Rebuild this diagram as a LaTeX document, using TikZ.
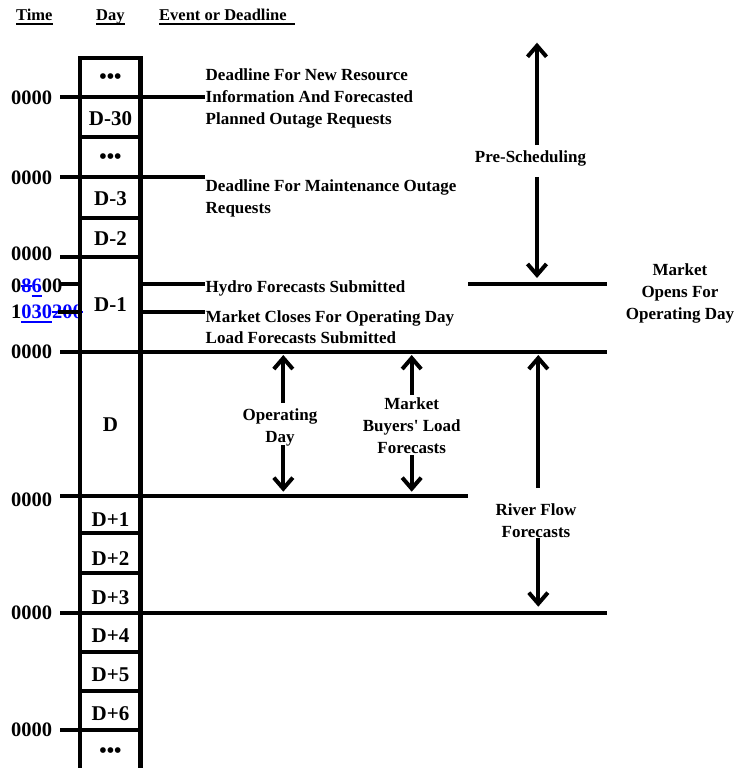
\documentclass[tikz,border=0pt]{standalone}
\usepackage{fontspec}
\setmainfont{Liberation Serif}
\usetikzlibrary{arrows.meta,calc}
\newsavebox\mybox
\newcommand\myul[2][3.8pt]{\sbox\mybox{#2}\rlap{\rule[-#1]{\wd\mybox}{1.5pt}}\usebox\mybox}
\newcommand\myso[1]{\sbox\mybox{#1}\rlap{\rule[5.8pt]{\wd\mybox}{1.5pt}}\usebox\mybox}
\begin{document}
\begin{tikzpicture}[x=1pt,y=-1pt,
  ln/.style={line width=4pt},
  col/.style={line width=4.5pt,line join=miter},
  arr/.style={line width=4pt,-{Straight Barb[length=11pt,width=19pt]}},
  ev/.style={font=\fontsize{17}{22}\selectfont\bfseries, inner sep=0pt, align=left, anchor=base west},
  lab/.style={font=\fontsize{17}{22}\selectfont\bfseries, inner sep=0pt, align=center, anchor=base},
  tm/.style={font=\fontsize{20.5}{24}\selectfont\bfseries, inner sep=0pt, anchor=base west},
  dy/.style={font=\fontsize{21}{24}\selectfont\bfseries, inner sep=0pt, anchor=base},
  hd/.style={font=\fontsize{16.5}{20}\selectfont\bfseries, inner sep=0pt, anchor=base west}]
\useasboundingbox[fill=white] (0,0) rectangle (736,768);

% headers
\node[hd] (hTime) at (16,21) {\myul{Time}};
\node[hd] (hDay) at (96,21) {\myul{Day}};
\node[hd] (hEvent) at (159,21) {\myul{Event or Deadline\ \ }};

% time labels
\node[tm] (t1) at (11,104.5) {0000};
\node[tm] (t2) at (11,184.5) {0000};
\node[tm] (t3) at (11,260.7) {0000};
\node[tm] (t4) at (11,292.5) {0{\color{blue}\myso{8}\myul[4pt]{6}}00};
\node[tm] (t5) at (11,318.5) {1{\color{blue}\myul[4pt]{030}\myso{200}}};
\node[tm] (t6) at (11,358.3) {0000};
\node[tm] (t7) at (11,506.7) {0000};
\node[tm] (t8) at (11,619.3) {0000};
\node[tm] (t9) at (11,736) {0000};

% day column labels
\node[dy] (dA) at (110.5,84) {•••};
\node[dy] (dB) at (110.5,125) {D-30};
\node[dy] (dC) at (110.5,163.5) {•••};
\node[dy] (dD) at (110.5,205) {D-3};
\node[dy] (dE) at (110.5,245) {D-2};
\node[dy] (dF) at (110.5,311) {D-1};
\node[dy] (dG) at (110.5,431) {D};
\node[dy] (dH) at (110.5,526.7) {D+1};
\node[dy] (dI) at (110.5,565) {D+2};
\node[dy] (dJ) at (110.5,604) {D+3};
\node[dy] (dK) at (110.5,642.7) {D+4};
\node[dy] (dL) at (110.5,681.7) {D+5};
\node[dy] (dM) at (110.5,720) {D+6};
\node[dy] (dN) at (110.5,757.5) {•••};

% events (base anchor = baseline of last line)
\node[ev] (e1) at (205.5,124.7) {Deadline For New Resource\\Information And Forecasted\\Planned Outage Requests};
\node[ev] (e2) at (205.5,213.7) {Deadline For Maintenance Outage\\Requests};
\node[ev] (e3) at (205.5,292.3) {Hydro Forecasts Submitted};
\node[ev,font=\fontsize{17}{21}\selectfont\bfseries] (e4) at (205.5,343.3) {Market Closes For Operating Day\\Load Forecasts Submitted};

% column
\draw[col] (80,780) -- (80,58) -- (140.5,58) -- (140.5,780);
\foreach \yy in {136.7,218.3,533,572.7,651.7,690.7}
  \draw[ln] (80,\yy) -- (140.5,\yy);

% time lines
\draw[ln] (60,97) -- (205,97);
\draw[ln] (60,177.3) -- (205,177.3);
\draw[ln] (60,256.5) -- (140.5,256.5);
\draw[ln] (61,284) -- (82,284);
\draw[ln] (141,284) -- (205,284);
\draw[ln] (58,312) -- (82,312);
\draw[ln] (141,312) -- (205,312);
\draw[ln] (60,352) -- (607,352);
\draw[ln] (60,495.7) -- (468,495.7);
\draw[ln] (60,612.7) -- (607,612.7);
\draw[ln] (60,730) -- (140.5,730);
\draw[ln] (468,284) -- (607,284);

% right-side labels and arrows
\node[lab] (ps) at (530.5,162.3) {Pre-Scheduling};
\coordinate (psT) at (537,42.7);
\coordinate (psB) at (537,278);
\draw[arr] ($(psT |- ps.north)+(0,-5.3)$) -- (psT);
\draw[arr] ($(psB |- ps.south)+(0,10.7)$) -- (psB);

\node[lab] (mo) at (680,319.6) {Market\\Opens For\\Operating Day};

\node[lab] (od) at (280,442.6) {Operating\\Day};
\coordinate (odT) at (283.3,355);
\coordinate (odB) at (283.3,491.7);
\draw[arr] ($(odT |- od.north)+(0,-5.6)$) -- (odT);
\draw[arr] ($(odB |- od.south)+(0,-1.3)$) -- (odB);

\node[lab] (mb) at (411.7,453) {Market\\Buyers\textquotesingle\ Load\\Forecasts};
\coordinate (mbT) at (411.7,355);
\coordinate (mbB) at (411.7,491.7);
\draw[arr] ($(mbT |- mb.north)+(0,-2)$) -- (mbT);
\draw[arr] ($(mbB |- mb.south)+(0,1.7)$) -- (mbB);

\node[lab] (rf) at (536,537.6) {River Flow\\Forecasts};
\coordinate (rfT) at (538.3,355);
\coordinate (rfB) at (538.3,606.7);
\draw[arr] ($(rfT |- rf.north)+(0,-15.6)$) -- (rfT);
\draw[arr] ($(rfB |- rf.south)+(0,0)$) -- (rfB);
\end{tikzpicture}
\end{document}
